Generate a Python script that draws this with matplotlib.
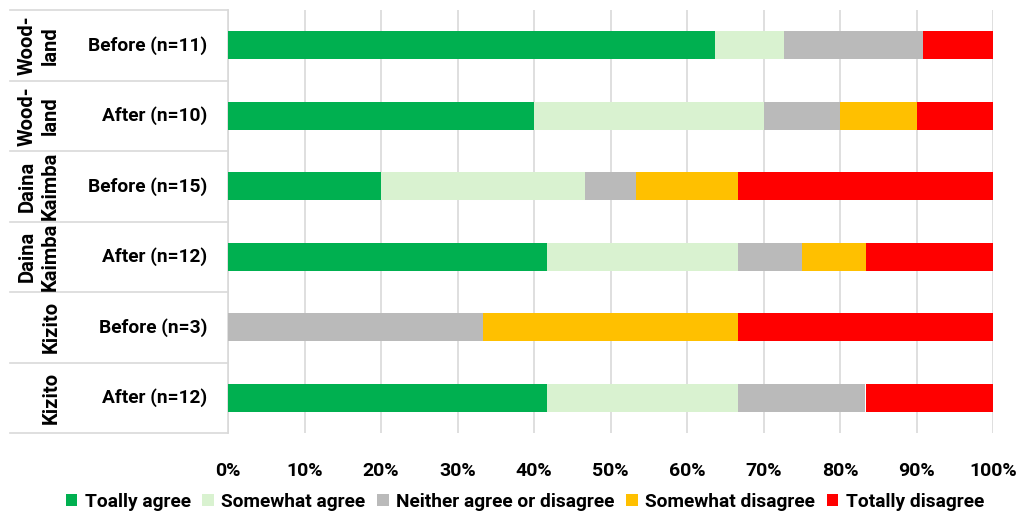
import matplotlib.pyplot as plt
from matplotlib.transforms import blended_transform_factory

plt.rcParams['font.family'] = ['Roboto', 'DejaVu Sans']
plt.rcParams['font.weight'] = 'bold'

groups = ['Wood-\nland', 'Wood-\nland', 'Daina\nKaimba', 'Daina\nKaimba', 'Kizito', 'Kizito']
rows = ['Before (n=11)', 'After (n=10)', 'Before (n=15)', 'After (n=12)', 'Before (n=3)', 'After (n=12)']
n = [11, 10, 15, 12, 3, 12]

categories = ['Toally agree', 'Somewhat agree', 'Neither agree or disagree',
              'Somewhat disagree', 'Totally disagree']
totally_agree = [7, 4, 3, 5, 0, 5]
somewhat_agree = [1, 3, 4, 3, 0, 3]
neither = [2, 1, 1, 1, 1, 2]
somewhat_disagree = [0, 1, 2, 1, 1, 0]
totally_disagree = [1, 1, 5, 2, 1, 2]
colors = ['#00B050', '#D9F2D0', '#BABABA', '#FFC000', '#FF0000']

series = [totally_agree, somewhat_agree, neither, somewhat_disagree, totally_disagree]

fig = plt.figure(figsize=(10.19, 5.15), dpi=100)
ax = fig.add_axes([228 / 1019, 1 - 433 / 515, 765 / 1019, 423 / 515])

y = list(range(len(rows)))
left = [0.0] * len(rows)
for vals, name, c in zip(series, categories, colors):
    pct = [v / t * 100 for v, t in zip(vals, n)]
    ax.barh(y, pct, left=left, height=0.4, color=c, label=name, zorder=3)
    left = [l + p for l, p in zip(left, pct)]

ax.set_xlim(0, 100)
ax.set_ylim(len(rows) - 0.5, -0.5)
ax.set_xticks(range(0, 101, 10))
ax.set_xticklabels([f'{t}%' for t in range(0, 101, 10)], fontsize=14)
ax.tick_params(axis='x', length=0, pad=21)
ax.set_yticks([])
ax.grid(axis='x', color='#D9D9D9', linewidth=1.2, zorder=0)
for s in ['top', 'right', 'bottom']:
    ax.spines[s].set_visible(False)
ax.spines['left'].set_color('#D9D9D9')
ax.spines['left'].set_linewidth(1.2)

tr = blended_transform_factory(ax.transAxes, ax.transData)
x0 = (10 - 228) / 765
for b in [i - 0.5 for i in range(len(rows) + 1)]:
    ax.plot([x0, 0], [b, b], transform=tr, color='#D9D9D9', linewidth=1.2, clip_on=False)

for i, (g, r) in enumerate(zip(groups, rows)):
    ax.text(-21 / 765, i, r, transform=tr, ha='right', va='center', fontsize=13.8)
    gx = (39 - 228) / 765 if '\n' in g else (51 - 228) / 765
    ax.text(gx, i, g, transform=tr, ha='center', va='center', rotation=90,
            fontsize=14.5, linespacing=1.25, multialignment='center')

fig.legend(loc='center', bbox_to_anchor=(0.515, 0.025), ncol=5, frameon=False,
           fontsize=13.8, handlelength=0.6, handleheight=0.6, handletextpad=0.4,
           columnspacing=0.6)

fig.savefig('out.png', dpi=100)
